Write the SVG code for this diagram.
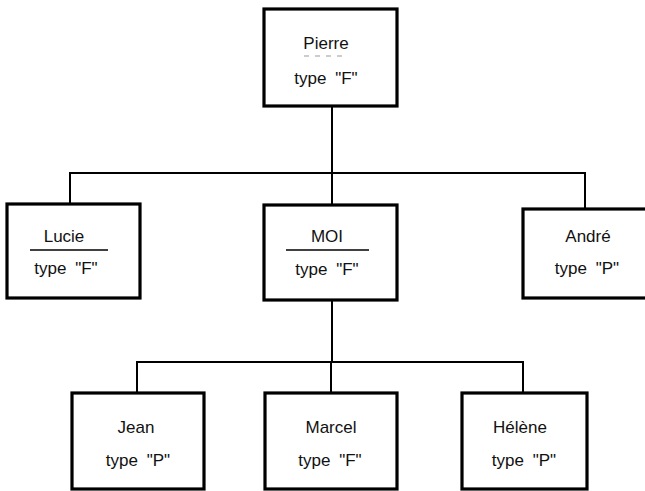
<svg xmlns="http://www.w3.org/2000/svg" width="645" height="491" viewBox="0 0 645 491">
<style>
.box{fill:#fff;stroke:#000;stroke-width:3.2}
.t{font-family:"Liberation Sans",Arial,sans-serif;font-size:17px;fill:#111;text-anchor:middle;word-spacing:4px}
.c{fill:none;stroke:#000;stroke-width:2}
.u{stroke:#000;stroke-width:1.4}
</style>
<rect width="645" height="491" fill="#fff"/>
<g id="connectors">
<path class="c" d="M332,106 V173 M70,204 V173 H585 V209 M332,173 V205"/>
<path class="c" d="M332,300 V362 M137,393 V362 H523 V393 M331,362 V393"/>
</g>
<g id="pierre">
<rect class="box" x="264" y="9" width="133" height="97"/>
<text class="t" x="326" y="49">Pierre</text>
<path d="M304,56 H348" stroke="#999" stroke-width="1" stroke-dasharray="5 6"/>
<text class="t" x="326" y="84">type "F"</text>
</g>
<g id="lucie">
<rect class="box" x="7" y="204" width="133" height="94"/>
<text class="t" x="64" y="242">Lucie</text>
<line class="u" x1="30" y1="250" x2="108" y2="250"/>
<text class="t" x="66" y="274">type "F"</text>
</g>
<g id="moi">
<rect class="box" x="264" y="205" width="133" height="95"/>
<text class="t" x="327" y="242">MOI</text>
<line class="u" x1="286" y1="250" x2="369" y2="250"/>
<text class="t" x="327" y="275">type "F"</text>
</g>
<g id="andre">
<rect class="box" x="523" y="209" width="132" height="89"/>
<text class="t" x="588" y="242">André</text>
<text class="t" x="587" y="274">type "P"</text>
</g>
<g id="jean">
<rect class="box" x="72" y="393" width="132" height="96"/>
<text class="t" x="136" y="433">Jean</text>
<text class="t" x="138" y="466">type "P"</text>
</g>
<g id="marcel">
<rect class="box" x="265" y="393" width="132" height="96"/>
<text class="t" x="331" y="433">Marcel</text>
<text class="t" x="330" y="466">type "F"</text>
</g>
<g id="helene">
<rect class="box" x="462" y="393" width="125" height="96"/>
<text class="t" x="520" y="433">Hélène</text>
<text class="t" x="524" y="466">type "P"</text>
</g>
</svg>
